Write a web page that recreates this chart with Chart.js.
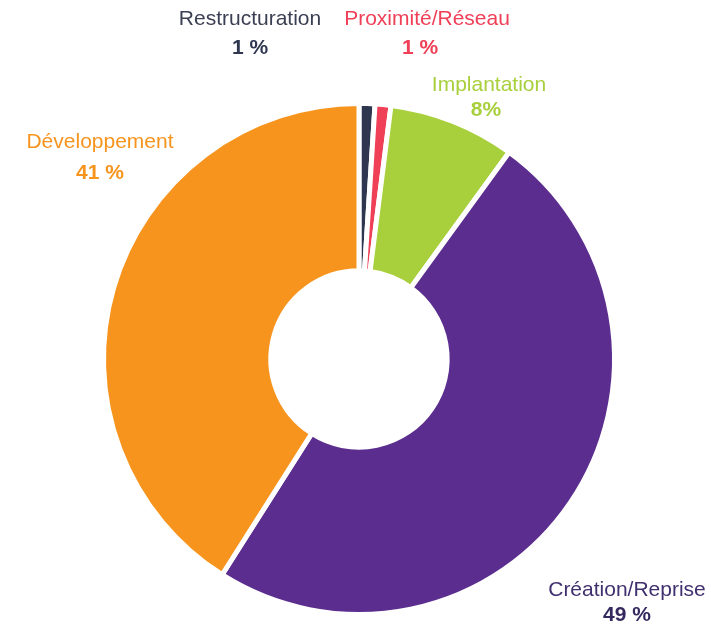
<!DOCTYPE html>
<html>
<head>
<meta charset="utf-8">
<script src="https://cdn.jsdelivr.net/npm/chart.js@4/dist/chart.umd.min.js"></script>
<style>
  html, body { margin: 0; padding: 0; background: #fff; }
  #wrap { width: 711px; height: 624px; }
</style>
</head>
<body>
<div id="wrap"><canvas id="myChart" width="711" height="624"></canvas></div>
<script>
// donnees
var categories = ['Restructuration', 'Proximité/Réseau', 'Implantation', 'Création/Reprise', 'Développement'];
var valeurs = [1, 1, 8, 49, 41];
var etiquettes = ['1 %', '1 %', '8%', '49 %', '41 %'];

var couleurs = ['#2e3650', '#ef4058', '#a8cf3c', '#5b2d8e', '#f7941e'];
var couleursTexte = ['#3b3f52', '#ef4058', '#a8cf3c', '#40306f', '#f7941e'];
var couleursPct = ['#2e3650', '#ef4058', '#a8cf3c', '#35285f', '#f7941e'];

// position des etiquettes par rapport au centre du donut (nom, pourcentage)
var placement = [
    [-109, -340, -109, -311],
    [68, -340, 61, -311],
    [130, -274, 127, -249],
    [268, 231, 268, 256],
    [-259, -217, -259, -186]
];

var etiquettesPlugin = {
    id: 'etiquettes',
    afterDraw: function(chart) {
        var ctx = chart.ctx;
        var arc = chart.getDatasetMeta(0).data[0];
        var cx = arc.x, cy = arc.y;
        ctx.save();
        ctx.textAlign = 'center';
        ctx.textBaseline = 'middle';
        for (var i = 0; i < categories.length; i++) {
            var p = placement[i];
            ctx.font = '21px "Liberation Sans", Arial, sans-serif';
            ctx.fillStyle = couleursTexte[i];
            ctx.fillText(categories[i], cx + p[0], cy + p[1]);
            ctx.font = 'bold 21px "Liberation Sans", Arial, sans-serif';
            ctx.fillStyle = couleursPct[i];
            ctx.fillText(etiquettes[i], cx + p[2], cy + p[3]);
        }
        ctx.restore();
    }
};

var ctx = document.getElementById('myChart').getContext('2d');
var myChart = new Chart(ctx, {
    type: 'doughnut',
    data: {
        labels: categories,
        datasets: [{
            data: valeurs,
            backgroundColor: couleurs,
            borderColor: '#ffffff',
            borderWidth: 5
        }]
    },
    options: {
        responsive: false,
        animation: false,
        cutout: '34.5%',
        layout: {
            padding: { left: 101, right: 94, top: 101, bottom: 7 }
        },
        plugins: {
            legend: { display: false },
            tooltip: { enabled: false }
        }
    },
    plugins: [etiquettesPlugin]
});
</script>
</body>
</html>
